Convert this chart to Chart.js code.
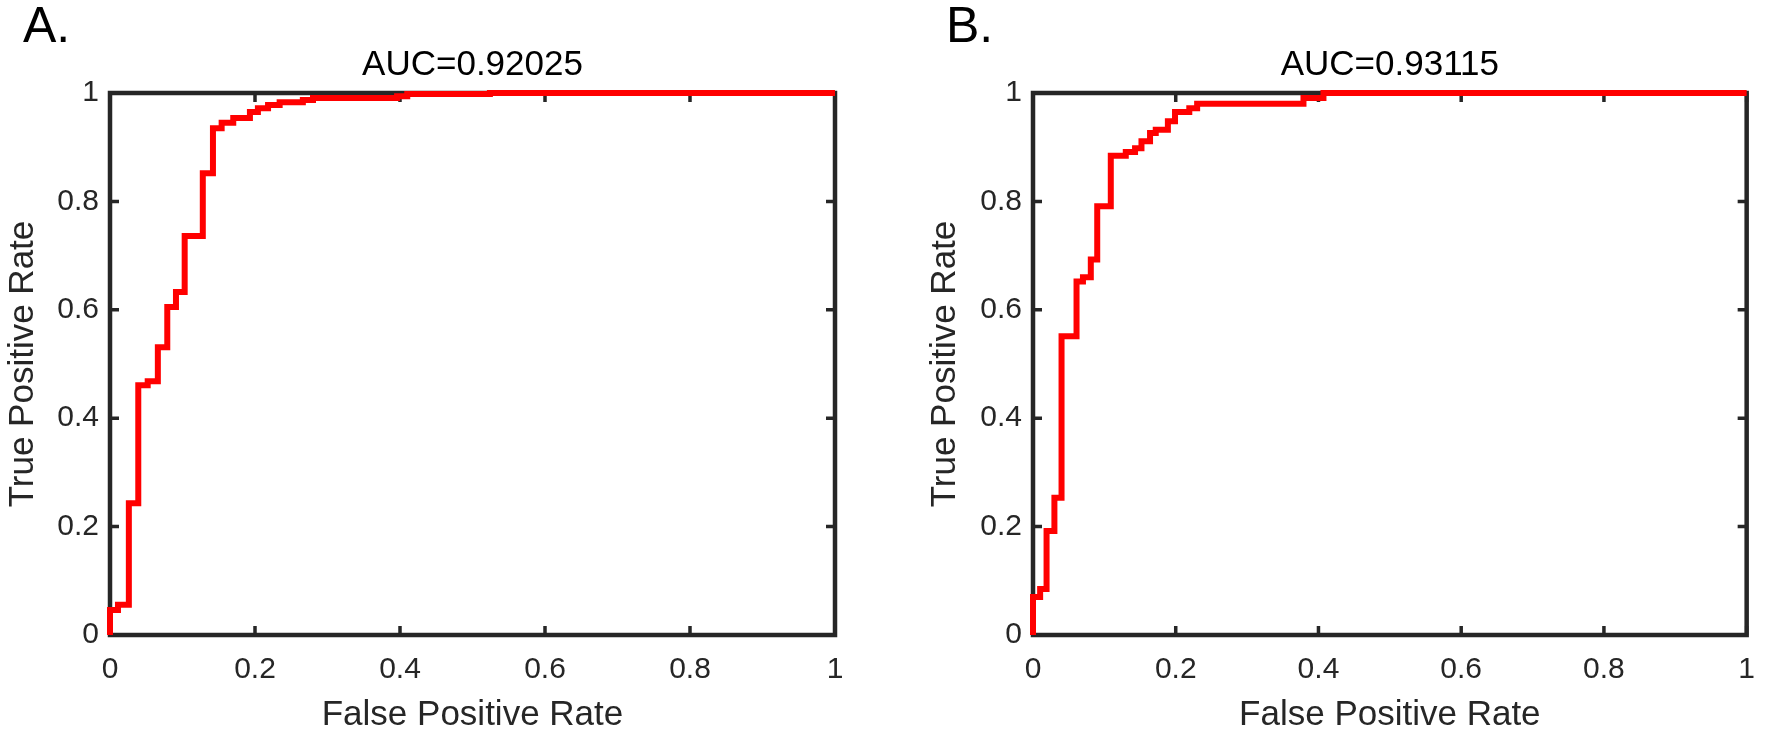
<!DOCTYPE html>
<html><head><meta charset="utf-8">
<script src="https://cdn.jsdelivr.net/npm/chart.js@4.4.1/dist/chart.umd.min.js"></script>
<style>
html,body{margin:0;padding:0;background:#fff;width:1772px;height:743px;overflow:hidden;}
.wrap{position:absolute;top:0;width:886px;height:743px;}
canvas{display:block}
.lab{position:absolute;font-family:"Liberation Sans",Arial,sans-serif;font-size:50px;line-height:50px;color:#000;}
</style></head><body>
<div class="wrap" style="left:0"><canvas id="cA" width="886" height="743"></canvas></div>
<div class="wrap" style="left:886px"><canvas id="cB" width="886" height="743"></canvas></div>
<div class="lab" id="labA" style="left:23px;top:0"></div>
<div class="lab" id="labB" style="left:946px;top:0"></div>
<script>
const panelLabels = ["A.", "B."];
const aucTitles = ["AUC=0.92025", "AUC=0.93115"];
const xTitle = "False Positive Rate";
const yTitle = "True Positive Rate";
const tickValues = [0, 0.2, 0.4, 0.6, 0.8, 1];
const tickLabels = ["0", "0.2", "0.4", "0.6", "0.8", "1"];

const fprA = [0, 0, 0.011, 0.026, 0.039, 0.052, 0.066, 0.079, 0.091, 0.103, 0.128, 0.142, 0.154, 0.170, 0.193, 0.204, 0.218, 0.234, 0.266, 0.280, 0.396, 0.410, 0.524, 1];
const tprA = [0, 0.046, 0.056, 0.243, 0.461, 0.468, 0.531, 0.605, 0.633, 0.736, 0.852, 0.935, 0.945, 0.954, 0.965, 0.972, 0.978, 0.983, 0.987, 0.991, 0.994, 0.998, 1, 1];

const fprB = [0, 0, 0.010, 0.019, 0.030, 0.040, 0.061, 0.070, 0.081, 0.090, 0.109, 0.130, 0.143, 0.152, 0.164, 0.172, 0.189, 0.199, 0.219, 0.230, 0.379, 0.407, 1];
const tprB = [0, 0.070, 0.085, 0.192, 0.253, 0.551, 0.652, 0.660, 0.693, 0.791, 0.884, 0.891, 0.898, 0.911, 0.926, 0.932, 0.948, 0.965, 0.972, 0.980, 0.991, 1, 1];

document.getElementById('labA').textContent = panelLabels[0];
document.getElementById('labB').textContent = panelLabels[1];

const FAMILY = '"Liberation Sans", Arial, Helvetica, sans-serif';
const AXIS_COLOR = '#262626';

const boxPlugin = {
  id: 'box',
  beforeDatasetsDraw(chart) {
    const {ctx, chartArea: a, scales: {x, y}} = chart;
    ctx.save();
    ctx.strokeStyle = AXIS_COLOR;
    ctx.lineWidth = 4.5;
    ctx.lineJoin = 'miter';
    ctx.strokeRect(a.left, a.top, a.right - a.left, a.bottom - a.top);
    ctx.beginPath();
    const L = 9;
    tickValues.forEach(v => {
      const px = x.getPixelForValue(v), py = y.getPixelForValue(v);
      ctx.moveTo(px, a.bottom); ctx.lineTo(px, a.bottom - L);
      ctx.moveTo(px, a.top); ctx.lineTo(px, a.top + L);
      ctx.moveTo(a.left, py); ctx.lineTo(a.left + L, py);
      ctx.moveTo(a.right, py); ctx.lineTo(a.right - L, py);
    });
    ctx.lineWidth = 3.5;
    ctx.stroke();
    ctx.restore();
  }
};

function makeChart(id, fpr, tpr, auc, yWidth, rightPad, yTitlePad) {
  const pts = fpr.map((v, i) => ({x: v, y: tpr[i]}));
  const setTicks = s => { s.ticks = tickValues.map(v => ({value: v})); };
  return new Chart(document.getElementById(id), {
    type: 'scatter',
    data: {datasets: [{
      data: pts, showLine: true, stepped: true,
      borderColor: '#ff0000', borderWidth: 6, pointRadius: 0,
      fill: false, clip: false, borderJoinStyle: 'miter', borderCapStyle: 'butt'
    }]},
    options: {
      responsive: false, animation: false, devicePixelRatio: 1,
      layout: {padding: {left: 0, right: rightPad, top: 0, bottom: 0}},
      plugins: {legend: {display: false}, tooltip: {enabled: false}, title: {display: false}},
      scales: {
        x: {
          type: 'linear', position: 'bottom', min: 0, max: 1,
          afterBuildTicks: setTicks,
          ticks: {callback: (v, i) => tickLabels[i], font: {size: 30, family: FAMILY}, color: AXIS_COLOR, padding: 17, maxRotation: 0, autoSkip: false},
          grid: {display: false, drawTicks: false}, border: {display: false},
          title: {display: true, text: xTitle, font: {size: 35, family: FAMILY}, color: AXIS_COLOR, padding: {top: 0, bottom: 7}},
          afterFit: s => { s.height = 108; }
        },
        x2: {
          type: 'linear', position: 'top', min: 0, max: 1,
          ticks: {display: false}, grid: {display: false, drawTicks: false}, border: {display: false},
          title: {display: true, text: auc, font: {size: 35, family: FAMILY}, color: '#000', padding: {top: 44, bottom: 0}},
          afterFit: s => { s.height = 93; }
        },
        y: {
          type: 'linear', position: 'left', min: 0, max: 1,
          afterBuildTicks: setTicks,
          ticks: {callback: (v, i) => tickLabels[i], font: {size: 30, family: FAMILY}, color: AXIS_COLOR, padding: 11, autoSkip: false},
          grid: {display: false, drawTicks: false}, border: {display: false},
          title: {display: true, text: yTitle, font: {size: 35, family: FAMILY}, color: AXIS_COLOR, padding: {top: yTitlePad, bottom: 0}},
          afterFit: s => { s.width = yWidth; }
        }
      }
    },
    plugins: [boxPlugin]
  });
}

makeChart('cA', fprA, tprA, aucTitles[0], 110, 51, 2);
makeChart('cB', fprB, tprB, aucTitles[1], 147, 17, 38);
</script>
</body></html>
